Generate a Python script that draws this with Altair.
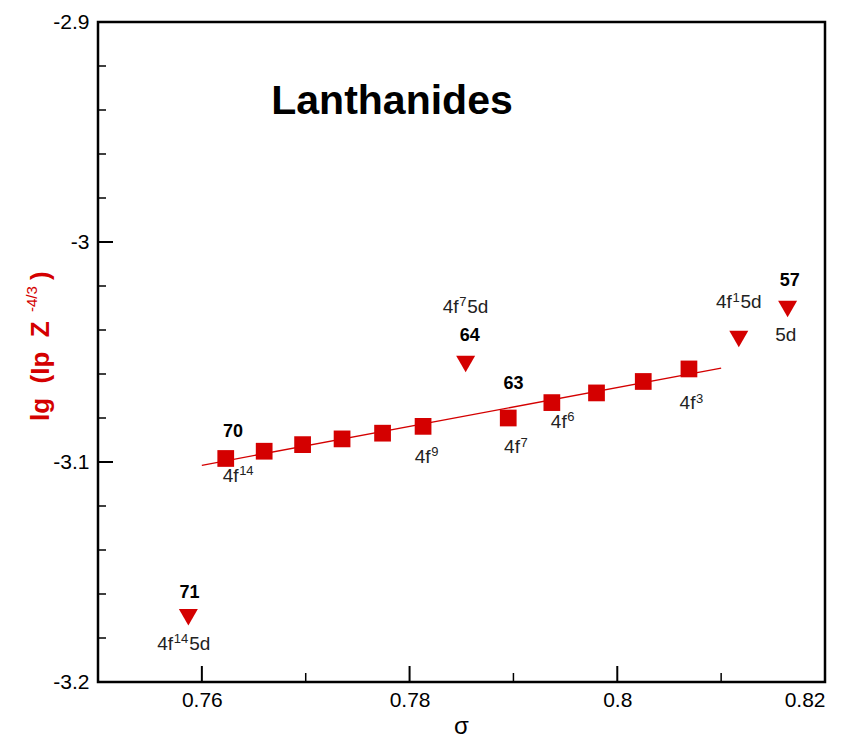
import altair as alt
import pandas as pd

# Lanthanides: lg(Ip * Z^-4/3) versus screening parameter sigma
# 4f^n ground configurations (squares, fitted by a straight line)
z_sq = [70, 69, 68, 67, 66, 65, 63, 62, 61, 60, 59]
sigma_sq = [0.7623, 0.7660, 0.7697, 0.7735, 0.7774, 0.7813, 0.7895, 0.7937, 0.7980, 0.8025, 0.8069]
lg_sq = [-3.0984, -3.0951, -3.0921, -3.0895, -3.0869, -3.0838, -3.0800, -3.0730, -3.0686, -3.0634, -3.0577]

# configurations with a 5d electron (down triangles)
z_tri = [71, 64, 58, 57]
sigma_tri = [0.7587, 0.7854, 0.8117, 0.8164]
lg_tri = [-3.1706, -3.0555, -3.0441, -3.0305]

# linear fit through the 4f^n series
fit_sigma = [0.760, 0.810]
fit_lg = [-3.1015, -3.0573]

# atomic-number labels (bold), centred
num_text = ["70", "63", "64", "57", "71"]
num_sigma = [0.7630, 0.7900, 0.7858, 0.8166, 0.7588]
num_lg = [-3.0864, -3.0647, -3.0429, -3.0177, -3.1595]

# electron configuration labels, left-aligned: base, superscript, tail
cfg_base = ["4f", "4f", "4f", "4f", "4f", "4f", "4f", "5d", "4f"]
cfg_sup = ["14", "9", "7", "6", "3", "7", "1", "", "14"]
cfg_tail = ["", "", "", "", "", "5d", "5d", "", "5d"]
cfg_sigma = [0.7620, 0.7805, 0.7891, 0.7936, 0.8060, 0.7832, 0.8095, 0.8152, 0.7557]
cfg_lg = [-3.1063, -3.0977, -3.0932, -3.0818, -3.0734, -3.0295, -3.0273, -3.0421, -3.1825]

# axis ticks
x_major = [0.76, 0.78, 0.80, 0.82]
x_minor = [0.77, 0.79, 0.81]
y_major = [-2.9, -3.0, -3.1, -3.2]
y_minor = [-2.92, -2.94, -2.96, -2.98, -3.02, -3.04, -3.06, -3.08,
           -3.12, -3.14, -3.16, -3.18]

RED = "#d40000"
FONT = "Liberation Sans"
W, H = 727, 660
LBL = 19      # configuration label size
SUP = 13      # superscript size
BASE_W = 16   # width of "4f" at LBL

xs = alt.Scale(domain=[0.75, 0.82], nice=False, zero=False)
ys = alt.Scale(domain=[-3.2, -2.9], nice=False, zero=False)


def X(**kw):
    return alt.X("sigma:Q", scale=xs, title=None, **kw)


def Y(**kw):
    return alt.Y("lg:Q", scale=ys, title=None, **kw)


squares = pd.DataFrame({"Z": z_sq, "sigma": sigma_sq, "lg": lg_sq})
triangles = pd.DataFrame({"Z": z_tri, "sigma": sigma_tri, "lg": lg_tri})
fit = pd.DataFrame({"sigma": fit_sigma, "lg": fit_lg})
nums = pd.DataFrame({"t": num_text, "sigma": num_sigma, "lg": num_lg})
cfgs = pd.DataFrame({"base": cfg_base, "sup": cfg_sup, "tail": cfg_tail,
                     "sigma": cfg_sigma, "lg": cfg_lg})
cfgs["nsup"] = cfgs["sup"].str.len()

minus_fix = "replace(datum.label, '\u2212', '-')"
x_axis = alt.Axis(values=x_major, format="~g", ticks=False, domain=False, grid=False,
                  labelFont=FONT, labelFontSize=21, labelColor="black", labelPadding=7)
y_axis = alt.Axis(values=y_major, format="~g", labelExpr=minus_fix, ticks=False,
                  domain=False, grid=False, labelFont=FONT, labelFontSize=21,
                  labelColor="black", labelPadding=9)

line = alt.Chart(fit).mark_line(color=RED, strokeWidth=1.3).encode(
    x=X(axis=x_axis), y=Y(axis=y_axis)
)

sq = alt.Chart(squares).mark_point(shape="square", filled=True, size=280,
                                   color=RED, opacity=1).encode(x=X(), y=Y())
tri = alt.Chart(triangles).mark_point(shape="triangle-down", filled=True, size=361,
                                      color=RED, opacity=1).encode(x=X(), y=Y())

num_lbl = alt.Chart(nums).mark_text(font=FONT, fontSize=18, fontWeight="bold",
                                    color="black", baseline="middle").encode(
    x=X(), y=Y(), text="t:N")

cfg_chart = alt.Chart(cfgs)
cfg_base_lbl = cfg_chart.mark_text(font=FONT, fontSize=LBL, color="#222222",
                                   align="left", baseline="middle").encode(
    x=X(), y=Y(), text="base:N")
cfg_sup_lbl = cfg_chart.mark_text(font=FONT, fontSize=SUP, color="#222222",
                                  align="left", baseline="middle",
                                  dx=BASE_W + 0.5, dy=-4.5).transform_filter(
    "datum.nsup > 0").encode(x=X(), y=Y(), text="sup:N")
cfg_tail1 = cfg_chart.mark_text(font=FONT, fontSize=LBL, color="#222222",
                                align="left", baseline="middle",
                                dx=BASE_W + 8.5).transform_filter(
    "datum.nsup == 1 && datum.tail != ''").encode(x=X(), y=Y(), text="tail:N")
cfg_tail2 = cfg_chart.mark_text(font=FONT, fontSize=LBL, color="#222222",
                                align="left", baseline="middle",
                                dx=BASE_W + 16).transform_filter(
    "datum.nsup == 2 && datum.tail != ''").encode(x=X(), y=Y(), text="tail:N")


def tick_layer(vals, horizontal, length, width):
    df = pd.DataFrame({("lg" if horizontal else "sigma"): vals})
    m = alt.Chart(df).mark_rule(color="black", strokeWidth=width)
    if horizontal:
        return m.encode(y=Y(), x=alt.value(0), x2=alt.value(length))
    return m.encode(x=X(), y=alt.value(H), y2=alt.value(H - length))


ticks = [
    tick_layer(x_major[:-1], False, 16, 2),
    tick_layer(x_minor, False, 9, 1.5),
    tick_layer(y_major[1:-1], True, 15, 2),
    tick_layer(y_minor, True, 8, 1.5),
]

one = pd.DataFrame({"k": [0]})
title = alt.Chart(one).mark_text(font=FONT, fontSize=41, fontWeight="bold",
                                 color="black", baseline="middle").encode(
    x=alt.value(294), y=alt.value(80), text=alt.value("Lanthanides"))

x_title = alt.Chart(one).mark_text(font=FONT, fontSize=24, color="black",
                                   baseline="middle").encode(
    x=alt.value(W / 2), y=alt.value(705), text=alt.value("σ"))

# rotated y title with a superscript exponent
yt_main = alt.Chart(one).mark_text(font=FONT, fontSize=26, fontWeight="bold",
                                   color=RED, angle=270, align="left",
                                   baseline="middle").encode(
    x=alt.value(-57), y=alt.value(399), text=alt.value("lg\u00a0 (Ip\u00a0 Z"))
yt_sup = alt.Chart(one).mark_text(font=FONT, fontSize=15, color=RED, angle=270,
                                  align="left", baseline="middle").encode(
    x=alt.value(-66), y=alt.value(290), text=alt.value("-4/3"))
yt_close = alt.Chart(one).mark_text(font=FONT, fontSize=26, fontWeight="bold",
                                    color=RED, angle=270, align="left",
                                    baseline="middle").encode(
    x=alt.value(-57), y=alt.value(258), text=alt.value(")"))

chart = alt.layer(
    line, *ticks, sq, tri, num_lbl, cfg_base_lbl, cfg_sup_lbl, cfg_tail1, cfg_tail2,
    title, x_title, yt_main, yt_sup, yt_close
).properties(
    width=W, height=H,
    background="white",
    autosize=alt.AutoSizeParams(type="none"),
    padding={"left": 98, "top": 22, "right": 29, "bottom": 59},
).configure_view(
    stroke="black", strokeWidth=2.5
)

chart.save("out.html", embed_options={"renderer": "svg", "actions": False})
